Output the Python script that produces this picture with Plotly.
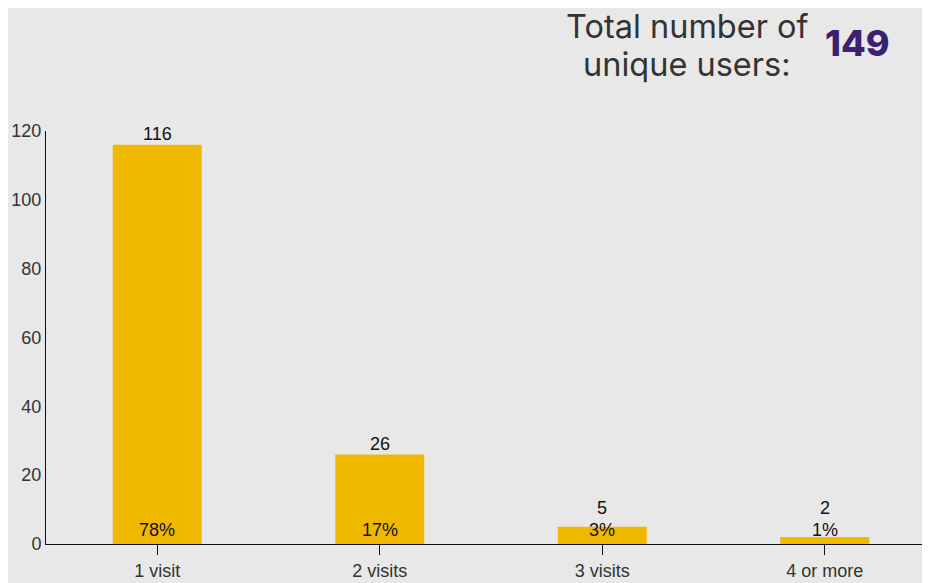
import plotly.graph_objects as go

categories = ["1 visit", "2 visits", "3 visits", "4 or more"]
values = [116, 26, 5, 2]
percent_labels = ["78%", "17%", "3%", "1%"]
total_users = 149
title_lines = ["Total number of", "unique users:"]
y_ticks = [0, 20, 40, 60, 80, 100, 120]

# page body has an 8px margin; lay out in reference pixel coords
OFF = 8
W, H = 930 - OFF, 583 - OFF
ml, mr, mt, mb = 46 - OFF, 0, 131 - OFF, H - (544 - OFF)
pw, ph = W - ml - mr, H - mt - mb

def px_x(x):
    return (x - OFF - ml) / pw

def px_y(y):
    return (H - mb - (y - OFF)) / ph

label_font = dict(family="Liberation Sans, Arial", size=18, color="#111111")

fig = go.Figure()
fig.add_trace(go.Bar(
    x=categories, y=values, width=0.4,
    marker=dict(color="#f0b900", line=dict(width=0)),
    hoverinfo="skip",
))

min_label_y = 7.2
for c, v, p in zip(categories, values, percent_labels):
    fig.add_annotation(x=c, y=max(v, min_label_y), xref="x", yref="y",
                       text=str(v), showarrow=False, yanchor="bottom",
                       yshift=-1, font=label_font)
    fig.add_annotation(x=c, y=0, xref="x", yref="y",
                       text=p, showarrow=False, yanchor="bottom",
                       yshift=2, font=label_font)

for line, yc in zip(title_lines, [26, 64]):
    fig.add_annotation(
        x=px_x(687), y=px_y(yc), xref="paper", yref="paper",
        xanchor="center", yanchor="middle", align="center",
        text=line, showarrow=False, borderpad=0,
        font=dict(family="Inter, Lato, sans-serif", size=32.5, color="#333333"),
    )
fig.add_annotation(
    x=px_x(857), y=px_y(43), xref="paper", yref="paper",
    xanchor="center", yanchor="middle",
    text=str(total_users), showarrow=False, borderpad=0,
    font=dict(family="Inter, Lato, sans-serif", size=36, color="#3b2170", weight=800),
)

fig.update_layout(
    width=W, height=H,
    margin=dict(l=ml, r=mr, t=mt, b=mb),
    paper_bgcolor="#e8e8e8", plot_bgcolor="#e8e8e8",
    showlegend=False,
    font=dict(family="Liberation Sans, Arial", size=18, color="#333333"),
)
fig.update_xaxes(
    range=[-0.5, -0.5 + pw / 222.5],
    showline=True, linecolor="#111111", linewidth=1,
    ticks="outside", ticklen=10, tickcolor="#111111",
    showgrid=False, zeroline=False,
    tickfont=dict(size=18, color="#333333"),
)
fig.update_yaxes(
    range=[0, 120], tickvals=y_ticks,
    showline=True, linecolor="#111111", linewidth=1,
    ticks="", showgrid=False, zeroline=False,
    tickfont=dict(size=18, color="#333333"),
)

fig.write_html("out.html")
